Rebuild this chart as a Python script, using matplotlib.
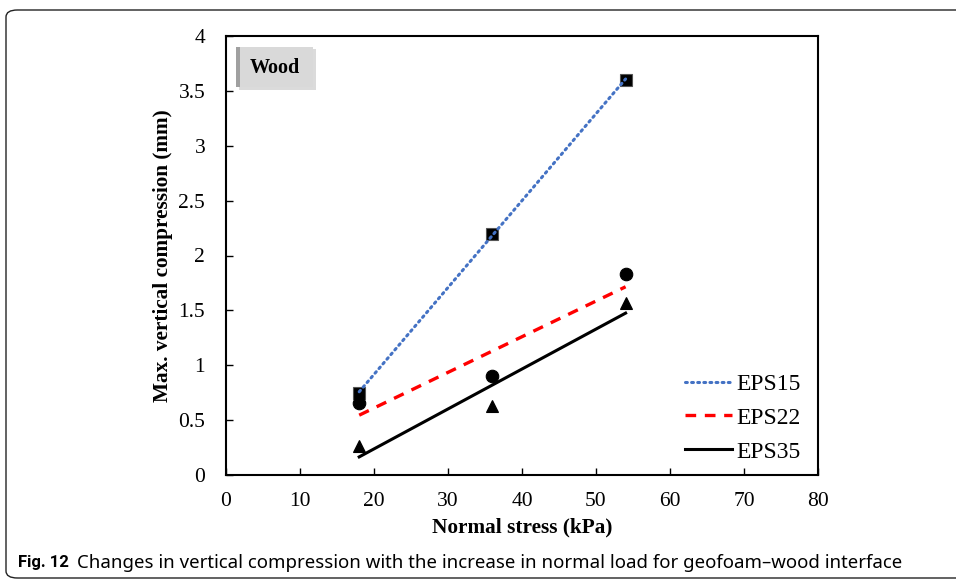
import numpy as np
import matplotlib
matplotlib.use("Agg")
import matplotlib.pyplot as plt
from matplotlib.patches import FancyBboxPatch, Rectangle

# data
stress = [18, 36, 54]
eps15 = [0.75, 2.2, 3.6]
eps22 = [0.66, 0.9, 1.83]
eps35 = [0.26, 0.63, 1.57]
series_names = ["EPS15", "EPS22", "EPS35"]
xticks = [0, 10, 20, 30, 40, 50, 60, 70, 80]
yticks = [0, 0.5, 1, 1.5, 2, 2.5, 3, 3.5, 4]
ytick_labels = ["0", "0.5", "1", "1.5", "2", "2.5", "3", "3.5", "4"]

serif = "Liberation Serif"

fig = plt.figure(figsize=(9.56, 5.81), dpi=100)

# rounded outer frame of the journal figure (open to the right)
frame = FancyBboxPatch((6 / 956, 3 / 581), 2.0, 568 / 581,
                       boxstyle="round,pad=0,rounding_size=0.012",
                       transform=fig.transFigure, fill=False,
                       edgecolor="#222222", linewidth=1.0, clip_on=False)
fig.patches.append(frame)

ax = fig.add_axes([226 / 956, 1 - 475 / 581, (818 - 226) / 956, (475 - 36) / 581])

x = np.array(stress)
styles = [
    (eps15, "s", "#4472C4", (0, (0.6, 1.4)), 2.2),
    (eps22, "o", "#FF0000", (0, (3.2, 2.6)), 2.4),
    (eps35, "^", "black", "-", 2.2),
]
for (vals, mk, col, ls, lw), name in zip(styles, series_names):
    ax.plot(x, vals, linestyle="none", marker=mk, markersize=9,
            color="black", markeredgecolor="#555555" if mk == "s" else "black",
            markeredgewidth=0.8, zorder=3)
for (vals, mk, col, ls, lw), name in zip(styles, series_names):
    k, b = np.polyfit(x, vals, 1)
    ax.plot(x[[0, -1]], k * x[[0, -1]] + b, color=col, linestyle=ls,
            linewidth=lw, label=name, zorder=4,
            dash_capstyle="round" if mk == "s" else "butt")

ax.set_xlim(0, 80)
ax.set_ylim(0, 4)
ax.set_xticks(xticks)
ax.set_yticks(yticks)
ax.set_yticklabels(ytick_labels)
ax.tick_params(direction="in", length=5, width=1, labelsize=15.5)
ax.tick_params(axis="x", pad=12)
ax.tick_params(axis="y", pad=15)
for lab in ax.get_xticklabels() + ax.get_yticklabels():
    lab.set_fontfamily(serif)
for s in ax.spines.values():
    s.set_linewidth(1.5)
    s.set_color("black")

ax.set_xlabel("Normal stress (kPa)", fontfamily=serif, fontweight="bold",
              fontsize=15.3, labelpad=5)
ax.set_ylabel("Max. vertical compression (mm)", fontfamily=serif,
              fontweight="bold", fontsize=15.3, labelpad=4)

# "Wood" label box with a soft shadow
ax.add_patch(Rectangle((239 / 956, 1 - 90 / 581), 77 / 956, 41 / 581,
                       transform=fig.transFigure, facecolor="#c4c4c4",
                       edgecolor="none", alpha=0.6, zorder=5))
ax.add_patch(Rectangle((236 / 956, 1 - 87 / 581), 77 / 956, 40 / 581,
                       transform=fig.transFigure, facecolor="#d9d9d9",
                       edgecolor="none", zorder=6))
ax.add_patch(Rectangle((236 / 956, 1 - 87 / 581), 4 / 956, 40 / 581,
                       transform=fig.transFigure, facecolor="#a0a0a0",
                       edgecolor="none", zorder=7))
fig.text(275 / 956, 1 - 68 / 581, "Wood", fontfamily=serif, fontweight="bold",
         fontsize=14.5, ha="center", va="center", zorder=8)

leg = ax.legend(loc="lower right", frameon=False, handlelength=2.0,
                handletextpad=0.2, labelspacing=0.52,
                bbox_to_anchor=(1.007, -0.02),
                prop={"family": serif, "size": 17})

fig.text(18 / 956, 1 - 563 / 581, "Fig. 12", fontfamily="Roboto",
         fontweight="bold", fontsize=12, va="center")
fig.text(77 / 956, 1 - 563 / 581,
         "Changes in vertical compression with the increase in normal load for geofoam\u2013wood interface",
         fontfamily="Noto Sans", fontsize=13.4, va="center")

fig.savefig("out.png", dpi=100)
